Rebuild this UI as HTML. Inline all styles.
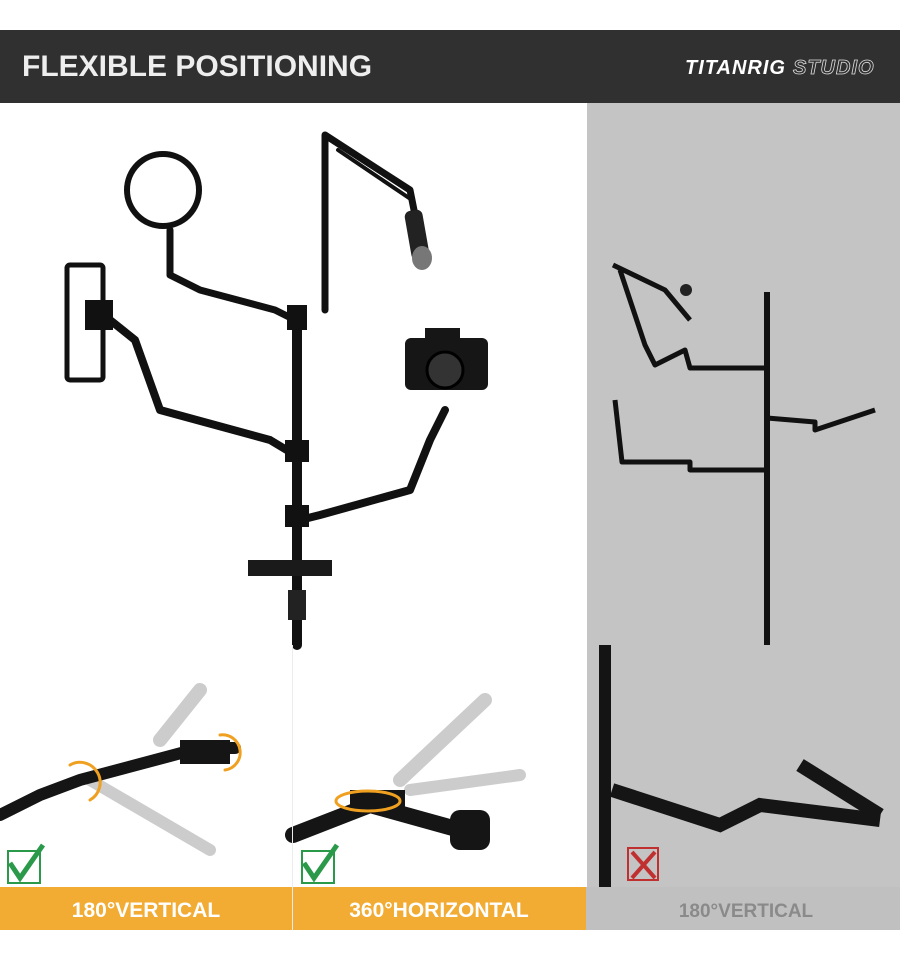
<!DOCTYPE html>
<html><head><meta charset="utf-8"><style>
html,body{margin:0;padding:0;background:#fff;width:900px;height:959px;overflow:hidden}
svg{display:block}
text{font-family:"Liberation Sans",sans-serif;font-weight:bold}
</style></head><body>
<svg width="900" height="959" viewBox="0 0 900 959">
<rect width="900" height="959" fill="#fff"/>
<!-- header -->
<rect x="0" y="30" width="900" height="73" fill="#303030"/>
<text x="22" y="76" font-size="30" fill="#eeeeee">FLEXIBLE POSITIONING</text>
<text x="685" y="74" font-size="20" font-style="italic" fill="#fff" letter-spacing="1">TITANRIG</text>
<text x="793" y="74" font-size="20" font-style="italic" fill="none" stroke="#ddd" stroke-width="0.8" letter-spacing="1">STUDIO</text>
<!-- right gray panel -->
<rect x="587" y="103" width="313" height="542" fill="#c4c4c4"/>
<rect x="587" y="645" width="313" height="242" fill="#c4c4c4"/>
<!-- main product -->
<g stroke="#111" fill="none" stroke-linecap="round" stroke-linejoin="round">
<line x1="297" y1="310" x2="297" y2="645" stroke-width="10"/>
<circle cx="163" cy="190" r="36" stroke-width="6"/>
<polyline points="170,230 170,275 200,290 275,310 295,320" stroke-width="7"/>
<polyline points="325,310 325,135 410,190 420,240" stroke-width="7"/>
<line x1="338" y1="150" x2="412" y2="200" stroke-width="4"/>
<polyline points="110,320 135,340 160,410 270,440 295,455" stroke-width="8"/>
<polyline points="445,410 430,440 410,490 320,515 300,520" stroke-width="8"/>
</g>
<rect x="67" y="265" width="36" height="115" rx="3" fill="none" stroke="#111" stroke-width="5"/>
<rect x="85" y="300" width="28" height="30" fill="#111"/>
<rect x="408" y="210" width="18" height="50" rx="6" fill="#222" transform="rotate(-10 417 235)"/>
<ellipse cx="422" cy="258" rx="10" ry="12" fill="#777"/>
<rect x="405" y="338" width="83" height="52" rx="6" fill="#161616"/>
<rect x="425" y="328" width="35" height="14" fill="#161616"/>
<circle cx="445" cy="370" r="18" fill="#333" stroke="#000" stroke-width="3"/>
<rect x="248" y="560" width="84" height="16" fill="#1a1a1a"/>
<rect x="288" y="590" width="18" height="30" fill="#222"/>
<rect x="287" y="305" width="20" height="25" fill="#111"/>
<rect x="285" y="440" width="24" height="22" fill="#111"/>
<rect x="285" y="505" width="24" height="22" fill="#111"/>
<!-- right panel product -->
<g stroke="#111" fill="none" stroke-linejoin="round">
<line x1="767" y1="292" x2="767" y2="645" stroke-width="6"/>
<polyline points="613,265 665,290 690,320" stroke-width="5"/>
<polyline points="620,270 645,345 655,365 685,350 690,368 767,368" stroke-width="5"/>
<polyline points="615,400 622,462 690,462 690,470 767,470" stroke-width="5"/>
<polyline points="767,418 815,422 815,430 875,410" stroke-width="5"/>
</g>
<circle cx="686" cy="290" r="6" fill="#222"/>
<!-- bottom panel 1 -->
<g stroke-linecap="round" fill="none">
<polyline points="160,740 200,690" stroke="#ccc" stroke-width="14"/>
<polyline points="90,780 210,850" stroke="#ccc" stroke-width="12"/>
<polyline points="0,815 40,795 80,780 200,748 235,748" stroke="#151515" stroke-width="12"/>
<path d="M70,765 A18,18 0 0 1 90,800" stroke="#f0a020" stroke-width="3"/>
<path d="M220,735 A15,15 0 0 1 225,770" stroke="#f0a020" stroke-width="3"/>
</g>
<rect x="180" y="740" width="50" height="24" fill="#151515"/>
<!-- bottom panel 2 -->
<g stroke-linecap="round" fill="none">
<polyline points="400,780 485,700" stroke="#ccc" stroke-width="14"/>
<polyline points="410,790 520,775" stroke="#ccc" stroke-width="12"/>
<polyline points="293,835 370,805 460,830" stroke="#151515" stroke-width="16"/>
</g>
<rect x="350" y="790" width="55" height="22" fill="#151515"/>
<rect x="450" y="810" width="40" height="40" rx="10" fill="#151515"/>
<ellipse cx="368" cy="801" rx="32" ry="10" fill="none" stroke="#f0a020" stroke-width="3"/>
<!-- bottom panel 3 -->
<rect x="599" y="645" width="12" height="242" fill="#141414"/>
<g stroke="#151515" fill="none" stroke-width="14">
<polyline points="612,790 720,825 760,805 880,820"/>
<polyline points="880,815 800,765"/>
</g>
<!-- checks -->
<rect x="8" y="851" width="32" height="32" fill="none" stroke="#2a9a4a" stroke-width="2"/>
<path d="M10,863 L20,878 L43,845" fill="none" stroke="#2a9a4a" stroke-width="5"/>
<rect x="302" y="851" width="32" height="32" fill="none" stroke="#2a9a4a" stroke-width="2"/>
<path d="M304,863 L314,878 L337,845" fill="none" stroke="#2a9a4a" stroke-width="5"/>
<rect x="628" y="848" width="30" height="32" fill="none" stroke="#c03030" stroke-width="2"/>
<path d="M632,852 L655,878 M655,852 L632,878" stroke="#c03030" stroke-width="4"/>
<!-- labels -->
<rect x="0" y="887" width="292" height="43" fill="#f2ab33"/>
<rect x="293" y="887" width="293" height="43" fill="#f2ab33"/>
<rect x="586" y="887" width="314" height="43" fill="#c0c0c0"/>
<line x1="292.5" y1="645" x2="292.5" y2="930" stroke="#ececec"/>
<text x="146" y="917" font-size="21" fill="#fff" text-anchor="middle">180°VERTICAL</text>
<text x="439" y="917" font-size="21" fill="#fff" text-anchor="middle">360°HORIZONTAL</text>
<text x="746" y="917" font-size="19" fill="#8a8a8a" text-anchor="middle">180°VERTICAL</text>
</svg>
</body></html>
